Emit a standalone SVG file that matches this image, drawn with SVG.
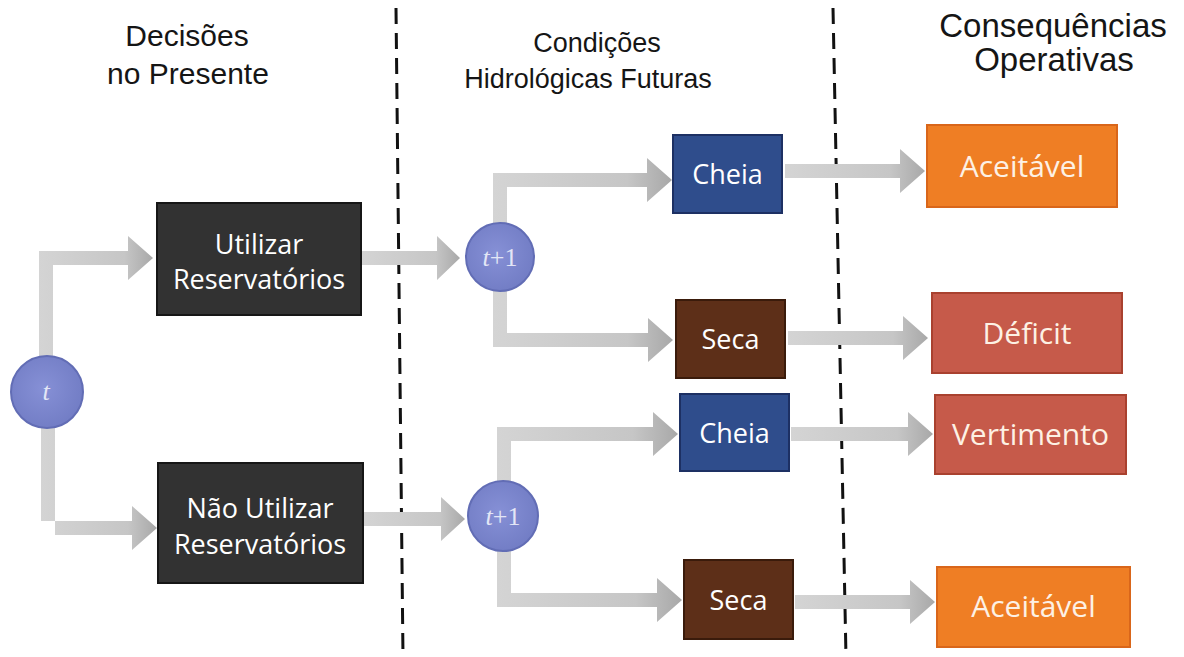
<svg xmlns="http://www.w3.org/2000/svg" width="1184" height="657" viewBox="0 0 1184 657">
  <style>
    .head { font-family: "Liberation Sans", Arial, sans-serif; font-size: 27px; fill: #151515; text-anchor: middle; }
    .lbl { font-family: "Open Sans", "DejaVu Sans", sans-serif; font-size: 27px; fill: #ffffff; text-anchor: middle; }
    .lbl2 { font-family: "Open Sans", "DejaVu Sans", sans-serif; font-size: 30px; fill: #fdf1e4; text-anchor: middle; }
    .ct { font-family: "Liberation Serif", "Times New Roman", serif; font-size: 26px; fill: #e3e6f6; text-anchor: middle; }
    .circ { fill: url(#cg); stroke: #626db5; stroke-width: 2; }
    .dark { fill: #323232; stroke: #161616; stroke-width: 2; }
    .blue { fill: #2f4d8c; stroke: #1d3063; stroke-width: 2; }
    .brown { fill: #5d2f18; stroke: #3a1b0b; stroke-width: 2; }
    .orange { fill: #ef7e24; stroke: #d9661a; stroke-width: 2; }
    .red { fill: #c65a4a; stroke: #a9412f; stroke-width: 2; }
    .arr { fill: url(#ag); }
    .dash { stroke: #111; stroke-width: 3; stroke-dasharray: 16 9; fill: none; }
  </style>
  <defs>
    <linearGradient id="ag" x1="0" y1="0" x2="1" y2="0">
      <stop offset="0" stop-color="#d4d4d4"/>
      <stop offset="0.75" stop-color="#c6c6c6"/>
      <stop offset="1" stop-color="#a8a8a8"/>
    </linearGradient>
    <radialGradient id="cg" cx="0.45" cy="0.45" r="0.6">
      <stop offset="0" stop-color="#8690d6"/>
      <stop offset="1" stop-color="#717cc4"/>
    </radialGradient>
  </defs>
  <rect width="1184" height="657" fill="#ffffff"/>

  <g id="dividers">
    <line class="dash" x1="396" y1="8" x2="403" y2="657"/>
    <line class="dash" x1="833" y1="8" x2="846" y2="657"/>
  </g>

  <g id="headings">
    <text class="head" x="187" y="46" style="font-size:30px">Decisões</text>
    <text class="head" x="188" y="84" style="font-size:30px">no Presente</text>
    <text class="head" x="597" y="52">Condições</text>
    <text class="head" x="588" y="88">Hidrológicas Futuras</text>
    <text class="head" x="1053" y="37" style="font-size:33px">Consequências</text>
    <text class="head" x="1054" y="71" style="font-size:33px">Operativas</text>
  </g>

  <g id="connectors">
    <path class="arr" d="M39,362 L39,251 L128,251 L128,236 L153,258 L128,280 L128,265 L53,265 L53,362 Z"/>
    <path class="arr" d="M41,424 L41,521 L132,521 L132,506 L157,528 L132,550 L132,535 L55,535 L55,424 Z"/>
    <path class="arr" d="M362,251 L437,251 L437,236 L460,258 L437,280 L437,265 L362,265 Z"/>
    <path class="arr" d="M364,512 L441,512 L441,497 L465,519 L441,541 L441,526 L364,526 Z"/>
    <path class="arr" d="M493,226 L493,173 L647,173 L647,158 L672,180 L647,202 L647,187 L507,187 L507,226 Z"/>
    <path class="arr" d="M493,288 L493,347 L648,347 L648,362 L673,340 L648,318 L648,333 L507,333 L507,288 Z"/>
    <path class="arr" d="M497,484 L497,427 L653,427 L653,412 L678,434 L653,456 L653,441 L511,441 L511,484 Z"/>
    <path class="arr" d="M497,548 L497,607 L657,607 L657,622 L682,600 L657,578 L657,593 L511,593 L511,548 Z"/>
    <path class="arr" d="M785,164 L900,164 L900,149 L925,171 L900,193 L900,178 L785,178 Z"/>
    <path class="arr" d="M788,331 L903,331 L903,316 L928,338 L903,360 L903,345 L788,345 Z"/>
    <path class="arr" d="M791,427 L908,427 L908,412 L933,434 L908,456 L908,441 L791,441 Z"/>
    <path class="arr" d="M795,595 L910,595 L910,580 L935,602 L910,624 L910,609 L795,609 Z"/>
  </g>

  <g id="node-t">
    <circle class="circ" cx="47" cy="392" r="36"/>
    <text class="ct" x="46" y="400" font-style="italic">t</text>
  </g>

  <g id="node-utilizar">
    <rect class="dark" x="157" y="203" width="204" height="112"/>
    <text class="lbl" x="259" y="254">Utilizar</text>
    <text class="lbl" x="259" y="289">Reservatórios</text>
  </g>

  <g id="node-nao-utilizar">
    <rect class="dark" x="158" y="463" width="205" height="120"/>
    <text class="lbl" x="260" y="518">Não Utilizar</text>
    <text class="lbl" x="260" y="554">Reservatórios</text>
  </g>

  <g id="node-t1-top">
    <circle class="circ" cx="500" cy="257" r="34"/>
    <text class="ct" x="500" y="266"><tspan font-style="italic">t</tspan>+1</text>
  </g>

  <g id="node-t1-bottom">
    <circle class="circ" cx="503" cy="516" r="35"/>
    <text class="ct" x="503" y="525"><tspan font-style="italic">t</tspan>+1</text>
  </g>

  <g id="node-cheia-1">
    <rect class="blue" x="673" y="135" width="109" height="78"/>
    <text class="lbl" x="727.5" y="184">Cheia</text>
  </g>
  <g id="node-seca-1">
    <rect class="brown" x="676" y="300" width="109" height="78"/>
    <text class="lbl" x="730.5" y="349">Seca</text>
  </g>
  <g id="node-cheia-2">
    <rect class="blue" x="680" y="394" width="109" height="77"/>
    <text class="lbl" x="734.5" y="443">Cheia</text>
  </g>
  <g id="node-seca-2">
    <rect class="brown" x="684" y="560" width="109" height="79"/>
    <text class="lbl" x="738.5" y="610">Seca</text>
  </g>

  <g id="node-aceitavel-1">
    <rect class="orange" x="927" y="125" width="190" height="82"/>
    <text class="lbl2" x="1022" y="177">Aceitável</text>
  </g>
  <g id="node-deficit">
    <rect class="red" x="932" y="293" width="190" height="80"/>
    <text class="lbl2" x="1027" y="344">Déficit</text>
  </g>
  <g id="node-vertimento">
    <rect class="red" x="935" y="395" width="191" height="79"/>
    <text class="lbl2" x="1030.5" y="445">Vertimento</text>
  </g>
  <g id="node-aceitavel-2">
    <rect class="orange" x="937" y="567" width="193" height="80"/>
    <text class="lbl2" x="1033.5" y="617">Aceitável</text>
  </g>
</svg>
